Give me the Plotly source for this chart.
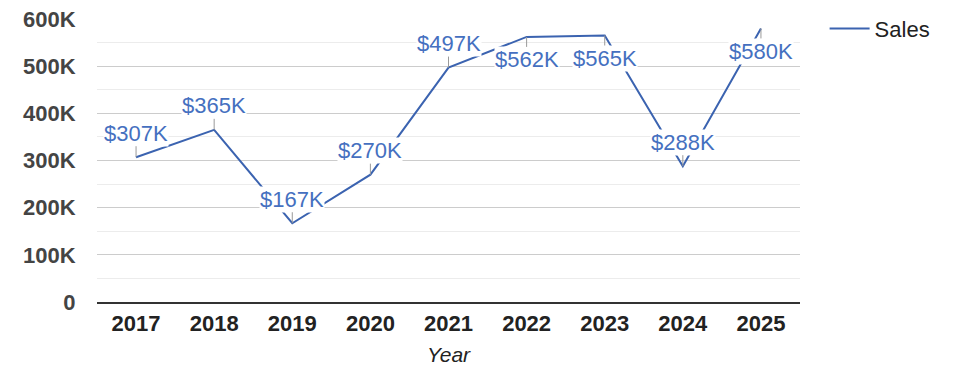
import plotly.graph_objects as go

years = [2017, 2018, 2019, 2020, 2021, 2022, 2023, 2024, 2025]
sales = [307000, 365000, 167000, 270000, 497000, 562000, 565000, 288000, 580000]
label_text = ["$307K", "$365K", "$167K", "$270K", "$497K", "$562K", "$565K", "$288K", "$580K"]
label_side = ["above", "above", "above", "above", "above", "below", "below", "above", "below"]
y_tickvals = [0, 100000, 200000, 300000, 400000, 500000, 600000]
y_ticktext = ["0", "100K", "200K", "300K", "400K", "500K", "600K"]

LINE = "#3b63b0"
TEXT_BLUE = "#4570c0"
FONT = "Liberation Sans, Arial, sans-serif"

fig = go.Figure()
fig.add_trace(go.Scatter(
    x=years, y=sales, mode="lines", name="Sales",
    line=dict(color=LINE, width=2),
    hoverinfo="skip",
))

for xv, yv, t, side in zip(years, sales, label_text, label_side):
    fig.add_annotation(
        x=xv, y=yv, xref="x", yref="y", text=t,
        showarrow=True, arrowhead=0, arrowwidth=1, arrowcolor="#999999",
        ax=0, ay=-24 if side == "above" else 23,
        font=dict(family=FONT, size=22, color=TEXT_BLUE),
        bgcolor="white", borderpad=0,
    )

# page body has an 8px default margin: figure is shifted by (8, 8)
fig.update_layout(
    width=967, height=370,
    margin=dict(l=89, r=175, t=11, b=76, autoexpand=False),
    paper_bgcolor="white", plot_bgcolor="white",
    font=dict(family=FONT, size=22, color="#222222"),
    showlegend=True,
    legend=dict(x=1.035, xanchor="left", y=1.04, yanchor="top",
                itemwidth=40,
                font=dict(family=FONT, size=22, color="#222222"),
                bgcolor="rgba(0,0,0,0)"),
    xaxis=dict(
        range=[2016.5, 2025.5], tickvals=years, ticktext=[str(y) for y in years],
        showgrid=False, zeroline=False, automargin=False,
        showline=True, linecolor="#333333", linewidth=1.5,
        ticks="outside", ticklen=1, tickcolor="rgba(0,0,0,0)",
        tickfont=dict(family=FONT, size=22, color="#222222", weight="bold"),
        title=dict(text="Year", standoff=12,
                   font=dict(family=FONT, size=21, color="#222222", style="italic")),
    ),
    yaxis=dict(
        range=[0, 600000], tickvals=y_tickvals, ticktext=y_ticktext,
        showgrid=True, gridcolor="#cccccc", gridwidth=1,
        zeroline=False, showline=False, automargin=False,
        ticklabeloverflow="allow",
        ticks="outside", ticklen=16, tickcolor="rgba(0,0,0,0)",
        tickfont=dict(family=FONT, size=22, color="#444444", weight="bold"),
        minor=dict(dtick=50000, showgrid=True, gridcolor="#ececec", gridwidth=1),
    ),
)

fig.write_html("out.html")
